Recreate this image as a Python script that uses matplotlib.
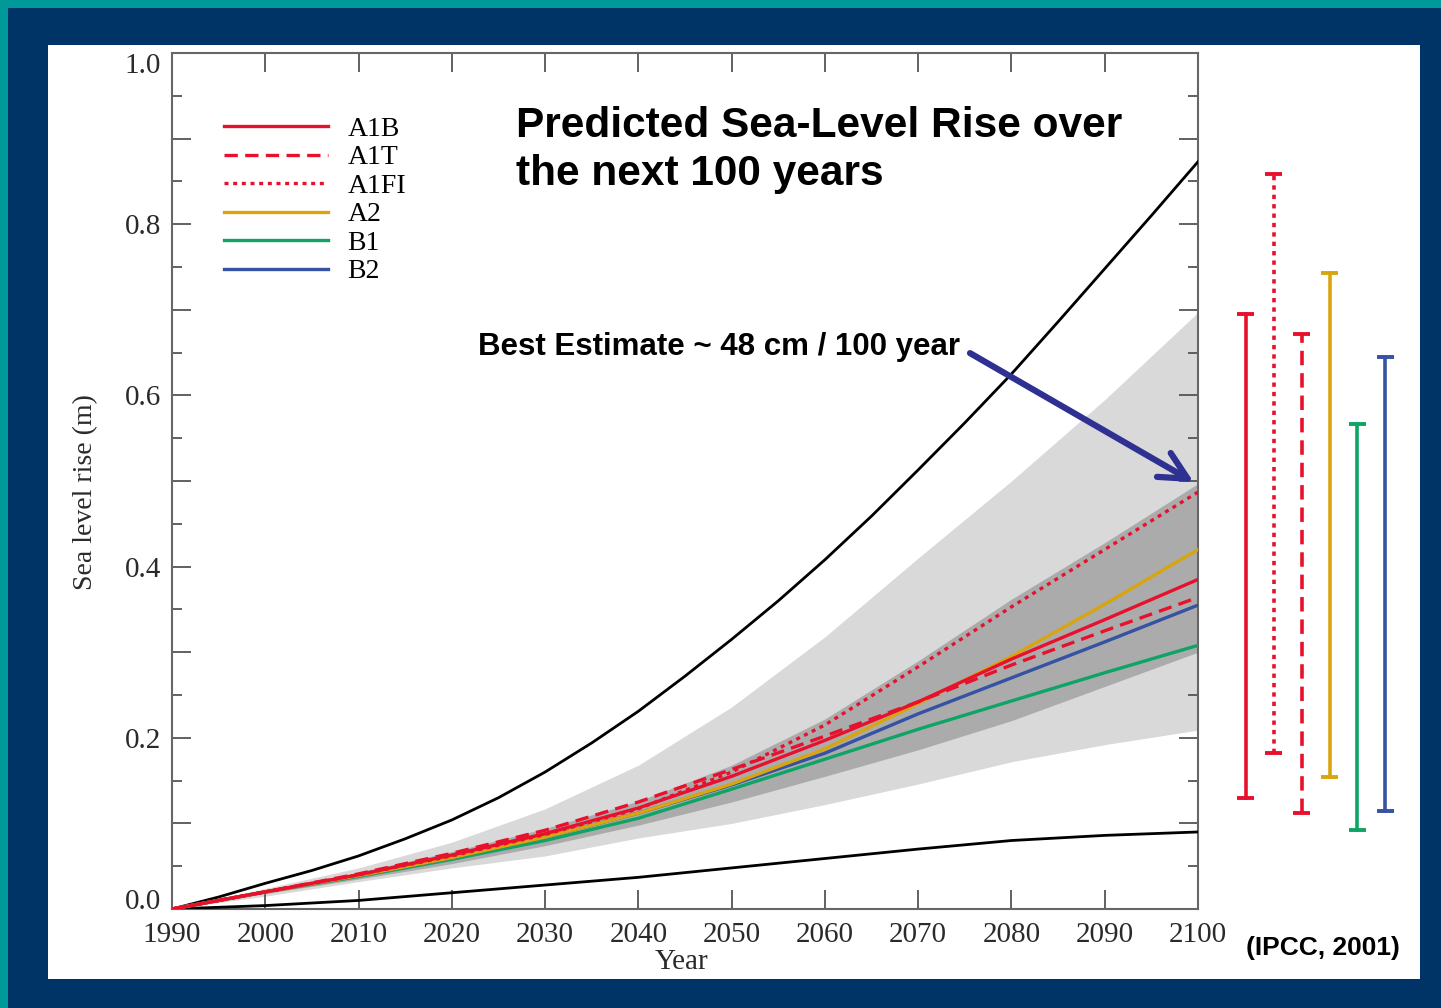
import matplotlib
matplotlib.use("Agg")
import matplotlib.pyplot as plt
from matplotlib.patches import Rectangle
from matplotlib.ticker import MultipleLocator, FuncFormatter

# ---- data ----
years = [1990, 1995, 2000, 2005, 2010, 2015, 2020, 2025, 2030, 2035, 2040, 2045,
         2050, 2055, 2060, 2065, 2070, 2075, 2080, 2085, 2090, 2095, 2100]
upper_black = [0, 0.014, 0.030, 0.045, 0.062, 0.082, 0.104, 0.130, 0.160, 0.194,
               0.231, 0.272, 0.315, 0.360, 0.408, 0.459, 0.513, 0.568, 0.625,
               0.686, 0.748, 0.810, 0.873]

dec = [1990, 2000, 2010, 2020, 2030, 2040, 2050, 2060, 2070, 2080, 2090, 2100]
lower_black = [0, 0.004, 0.010, 0.019, 0.028, 0.037, 0.048, 0.059, 0.070, 0.080, 0.086, 0.090]

light_hi = [0, 0.024, 0.048, 0.078, 0.117, 0.168, 0.236, 0.318, 0.410, 0.500, 0.595, 0.697]
light_lo = [0, 0.015, 0.032, 0.048, 0.062, 0.083, 0.100, 0.122, 0.146, 0.172, 0.192, 0.209]
dark_hi = [0, 0.021, 0.043, 0.067, 0.094, 0.126, 0.168, 0.222, 0.290, 0.362, 0.428, 0.497]
dark_lo = [0, 0.018, 0.035, 0.053, 0.074, 0.098, 0.125, 0.155, 0.186, 0.220, 0.260, 0.300]

scenarios = ["A1B", "A1T", "A1FI", "A2", "B1", "B2"]
series = {
    "A1B":  [0, 0.020, 0.040, 0.063, 0.088, 0.118, 0.155, 0.197, 0.242, 0.292, 0.338, 0.385],
    "A1T":  [0, 0.020, 0.041, 0.065, 0.092, 0.125, 0.163, 0.202, 0.242, 0.285, 0.325, 0.364],
    "A1FI": [0, 0.020, 0.040, 0.062, 0.087, 0.117, 0.160, 0.215, 0.283, 0.353, 0.420, 0.487],
    "A2":   [0, 0.020, 0.039, 0.060, 0.084, 0.112, 0.146, 0.187, 0.240, 0.295, 0.356, 0.420],
    "B1":   [0, 0.020, 0.038, 0.058, 0.080, 0.106, 0.140, 0.175, 0.210, 0.243, 0.276, 0.308],
    "B2":   [0, 0.020, 0.039, 0.060, 0.084, 0.112, 0.145, 0.182, 0.228, 0.270, 0.312, 0.355],
}
# range bars right of the plot, left to right
bar_names = ["A1B", "A1FI", "A1T", "A2", "B1", "B2"]
bar_top = [0.695, 0.859, 0.672, 0.743, 0.567, 0.645]
bar_bot = [0.130, 0.182, 0.112, 0.154, 0.092, 0.114]

colors = {"A1B": "#e8112d", "A1T": "#e8112d", "A1FI": "#e8112d",
          "A2": "#d9a50e", "B1": "#0ea466", "B2": "#3552a3"}
styles = {"A1B": "-", "A1T": (0, (4, 2.2)), "A1FI": (0, (1.2, 1.4)),
          "A2": "-", "B1": "-", "B2": "-"}

W, H = 1441, 1008
fig = plt.figure(figsize=(W / 100, H / 100), dpi=100, facecolor="#00999a")

# background frames
fig.patches.append(Rectangle((8 / W, 0), 1, 1 - 8 / H, transform=fig.transFigure,
                             facecolor="#003466", edgecolor="none", zorder=-3))
fig.patches.append(Rectangle((48 / W, 1 - 979 / H), (1420 - 48) / W, (979 - 45) / H,
                             transform=fig.transFigure, facecolor="white",
                             edgecolor="none", zorder=-2))

ax = fig.add_axes([172 / W, 1 - 909 / H, 1026 / W, 856 / H])
ax.set_facecolor("none")

ax.fill_between(dec, light_lo, light_hi, color="#d9d9d9", lw=0, zorder=1)
ax.fill_between(dec, dark_lo, dark_hi, color="#ababab", lw=0, zorder=2)
ax.plot(years, upper_black, color="black", lw=2.0, zorder=3)
ax.plot(dec, lower_black, color="black", lw=2.0, zorder=3)

for name in ["B1", "B2", "A2", "A1T", "A1B", "A1FI"]:
    ax.plot(dec, series[name], color=colors[name], ls=styles[name], lw=2.4,
            zorder=4, label=name)

bx = 2105.1
for i, name in enumerate(bar_names):
    x = bx + 3.0 * i
    ax.plot([x, x], [bar_bot[i], bar_top[i]], color=colors[name], ls=styles[name],
            lw=2.6, clip_on=False, zorder=4)
    for yv in (bar_bot[i], bar_top[i]):
        ax.plot([x - 0.95, x + 0.95], [yv, yv], color=colors[name], lw=2.8,
                clip_on=False, zorder=4, solid_capstyle="butt")

ax.set_xlim(1990, 2100)
ax.set_ylim(0, 1.0)
ax.xaxis.set_major_locator(MultipleLocator(10))
ax.yaxis.set_major_locator(MultipleLocator(0.1))
ax.yaxis.set_minor_locator(MultipleLocator(0.05))
ax.yaxis.set_major_formatter(FuncFormatter(
    lambda v, p: f"{v:.1f}" if round(v * 10) % 2 == 0 else ""))
ax.tick_params(which="both", direction="in", top=True, right=True,
               color="#555555", width=1.3, labelcolor="#2a2a2a")
ax.tick_params(which="major", length=14, labelsize=21)
ax.tick_params(axis="x", which="major", pad=9)
ax.tick_params(axis="y", which="major", pad=8)
ax.tick_params(which="minor", length=7)
for s in ax.spines.values():
    s.set_color("#666666")
    s.set_linewidth(1.5)

fig.canvas.draw()
for lab in ax.get_xticklabels() + ax.get_yticklabels():
    lab.set_family("Liberation Serif")
    # end labels sit inside the axis range, as in the original
    if lab.get_text() == "0.0":
        lab.set_va("baseline")
    elif lab.get_text() == "1.0":
        lab.set_va("top")

ax.set_xlabel("Year", family="Liberation Serif", fontsize=21, color="#2a2a2a")
ax.xaxis.set_label_coords(0.497, -0.047)
ax.set_ylabel("Sea level rise (m)", family="Liberation Serif", fontsize=20,
              color="#2a2a2a")
ax.yaxis.set_label_coords(-0.072, 0.487)

handles, labels = ax.get_legend_handles_labels()
order = [labels.index(n) for n in scenarios]
ax.legend([handles[i] for i in order], scenarios, loc="upper left",
          bbox_to_anchor=(0.026, 0.955), frameon=False, handlelength=3.75,
          labelspacing=0.11, handletextpad=0.7,
          prop={"family": "Liberation Serif", "size": 20})

fig.text(516 / W, 1 - 106 / H, "Predicted Sea-Level Rise over\nthe next 100 years",
         family="Liberation Sans", weight="bold", fontsize=30.5, va="top",
         ha="left", linespacing=1.25, color="black")
fig.text(478 / W, 1 - 347 / H, "Best Estimate ~ 48 cm / 100 year",
         family="Liberation Sans", weight="bold", fontsize=22.5, va="center",
         ha="left", color="black")
ax.annotate("", xy=(2099.8, 0.497), xytext=(2075.3, 0.651),
            arrowprops=dict(arrowstyle="->,head_length=0.9,head_width=0.45",
                            mutation_scale=22, color="#2e3192", lw=4.5),
            zorder=6)
fig.text(1400 / W, 1 - 948 / H, "(IPCC, 2001)", family="Liberation Sans",
         weight="bold", fontsize=19, va="center", ha="right", color="black")

fig.savefig("out.png", dpi=100, facecolor=fig.get_facecolor())
